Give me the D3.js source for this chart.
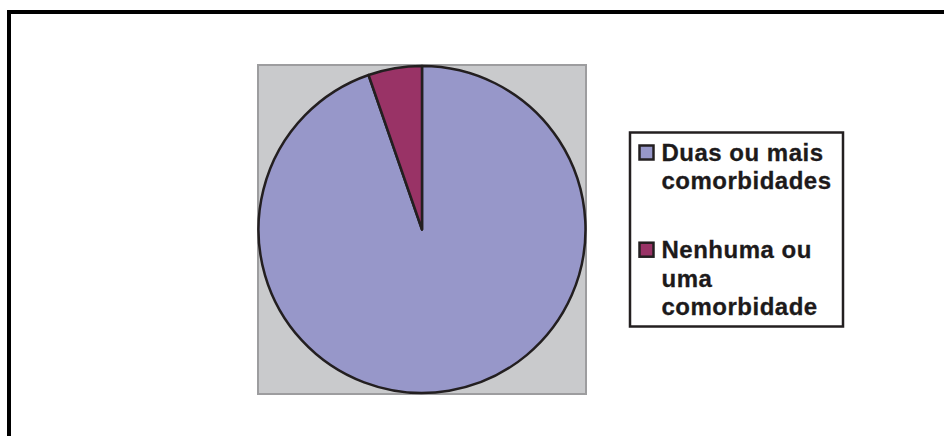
<!DOCTYPE html>
<html lang="pt">
<head>
<meta charset="utf-8">
<title>Comorbidades</title>
<script src="https://d3js.org/d3.v7.min.js"></script>
<style>
  body { margin: 0; background: #fff; }
  text { font-family: "Liberation Sans", Arial, sans-serif; font-weight: bold; fill: #1d1a1b; }
</style>
</head>
<body>
<div id="chart"></div>
<script>
// data (percent)
var categories = ["Duas ou mais comorbidades", "Nenhuma ou uma comorbidade"];
var values = [94.7, 5.3];
// legend labels, wrapped as in the picture
var legendLines = [["Duas ou mais", "comorbidades"], ["Nenhuma ou", "uma", "comorbidade"]];
var colors = ["#9797c9", "#993366"];

var width = 944, height = 436;

var svg = d3.select("#chart")
  .append("svg")
  .attr("width", width)
  .attr("height", height);

// outer chart border (right and bottom run off the picture)
svg.append("rect")
  .attr("x", 9).attr("y", 12)
  .attr("width", 960).attr("height", 460)
  .attr("fill", "none")
  .attr("stroke", "#000")
  .attr("stroke-width", 4);

// plot area
var plot = {x: 258, y: 65, w: 328, h: 329};
svg.append("rect")
  .attr("x", plot.x).attr("y", plot.y)
  .attr("width", plot.w).attr("height", plot.h)
  .attr("fill", "#c9cacc")
  .attr("stroke", "#9d9d9f")
  .attr("stroke-width", 2);

var color = d3.scaleOrdinal().domain(categories).range(colors);

var pie = d3.pie().sort(null).value(function(d) { return d; });
var arc = d3.arc().innerRadius(0).outerRadius(163.5);

svg.append("g")
  .attr("transform", "translate(422,229.5)")
  .selectAll("path")
  .data(pie(values))
  .enter()
  .append("path")
    .attr("d", arc)
    .attr("fill", function(d, i) { return color(categories[i]); })
    .attr("stroke", "#231f20")
    .attr("stroke-width", 2.5)
    .attr("stroke-linejoin", "round");

// legend
var legend = svg.append("g");
legend.append("rect")
  .attr("x", 630).attr("y", 132.5)
  .attr("width", 213).attr("height", 194)
  .attr("fill", "#fff")
  .attr("stroke", "#231f20")
  .attr("stroke-width", 2.5);

var entryTop = [160.5, 257.7];
var lineH = 28.8;

var entries = legend.selectAll("g.entry")
  .data(categories)
  .enter()
  .append("g")
  .attr("class", "entry");

entries.append("rect")
  .attr("x", 639.5)
  .attr("y", function(d, i) { return entryTop[i] - 15; })
  .attr("width", 14).attr("height", 14)
  .attr("fill", function(d) { return color(d); })
  .attr("stroke", "#231f20")
  .attr("stroke-width", 2.5);

entries.each(function(d, i) {
  d3.select(this).selectAll("text")
    .data(legendLines[i])
    .enter()
    .append("text")
      .attr("x", 661.5)
      .attr("y", function(t, j) { return entryTop[i] + j * lineH; })
      .style("font-size", "24px")
      .style("letter-spacing", "0.5px")
      .style("stroke", "#1d1a1b")
      .style("stroke-width", 0.3)
      .text(function(t) { return t; });
});
</script>
</body>
</html>
